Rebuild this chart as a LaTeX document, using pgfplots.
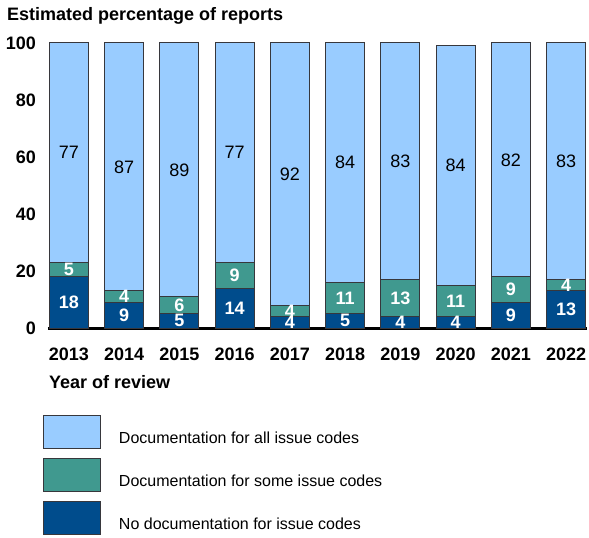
\documentclass[border=0pt]{standalone}
\usepackage{pgfplots}
\usepackage{pgfplotstable}
\pgfplotsset{compat=1.18}
\usepackage{fontspec}
\setmainfont{Liberation Sans}
\definecolor{cAll}{RGB}{153,204,255}
\definecolor{cSome}{RGB}{64,153,143}
\definecolor{cNone}{RGB}{0,76,140}
\definecolor{cEdge}{RGB}{55,55,60}
\pgfplotstableread{
x year none some all
0 2013 18 5 77
1 2014 9 4 87
2 2015 5 6 89
3 2016 14 9 77
4 2017 4 4 92
5 2018 5 11 84
6 2019 4 13 83
7 2020 4 11 84
8 2021 9 9 82
9 2022 13 4 83
}\datatable
\begin{document}
\begin{tikzpicture}
\path[use as bounding box] (0pt,0pt) rectangle (589pt,538pt);
\begin{axis}[
  at={(48pt,210pt)}, anchor=south west,
  scale only axis, width=539pt, height=285pt,
  ybar stacked, bar width=39pt,
  xmin=-0.38, xmax=9.38, ymin=0, ymax=100,
  axis lines*=left,
  y axis line style={draw=none},
  x axis line style={line width=3pt, -},
  major tick length=0pt,
  xtick=data,
  xticklabels={2013,2014,2015,2016,2017,2018,2019,2020,2021,2022},
  ytick={0,20,40,60,80,100},
  yticklabels={0,20,40,60,80,100},
  xticklabel style={font=\fontsize{18}{21}\selectfont\bfseries, anchor=base, yshift=-32pt, inner sep=0pt},
  yticklabel style={font=\fontsize{18}{21}\selectfont\bfseries, anchor=east, xshift=-12pt, inner sep=0pt},
  every axis plot/.append style={draw=cEdge, line width=1pt},
  legend style={draw=none, fill=none, inner sep=0pt, outer sep=0pt, row sep=9pt, column sep=18pt,
     nodes={inner sep=0pt, anchor=west}, font=\fontsize{16}{19}\selectfont,
     at={(axis description cs:-0.0093,-0.3053)}, anchor=north west},
  legend cell align=left,
  reverse legend,
  legend image code/.code={\draw[#1, line width=1pt] (0pt,-10.5pt) rectangle (57pt,22.5pt);},
  nodes near coords={\pgfmathprintnumber[assume math mode=true]{\pgfplotspointmeta}},
]
\addplot[fill=cNone, point meta=\thisrow{none},
  every node near coord/.append style={anchor=center, text=white, font=\fontsize{18}{21}\selectfont\bfseries}]
  table[x=x, y=none] {\datatable};
\addlegendentry{No documentation for issue codes}
\addplot[fill=cSome, point meta=\thisrow{some},
  every node near coord/.append style={anchor=center, text=white, font=\fontsize{18}{21}\selectfont\bfseries}]
  table[x=x, y=some] {\datatable};
\addlegendentry{Documentation for some issue codes}
\addplot[fill=cAll, point meta=\thisrow{all},
  every node near coord/.append style={anchor=center, text=black, font=\fontsize{18}{21}\selectfont}]
  table[x=x, y=all] {\datatable};
\addlegendentry{Documentation for all issue codes}
\end{axis}
\node[anchor=base west, inner sep=0pt, font=\fontsize{18}{21}\selectfont\bfseries] at (7pt,517pt) {Estimated percentage of reports};
\node[anchor=base west, inner sep=0pt, font=\fontsize{18}{21}\selectfont\bfseries] at (49pt,149pt) {Year of review};
\end{tikzpicture}
\end{document}
